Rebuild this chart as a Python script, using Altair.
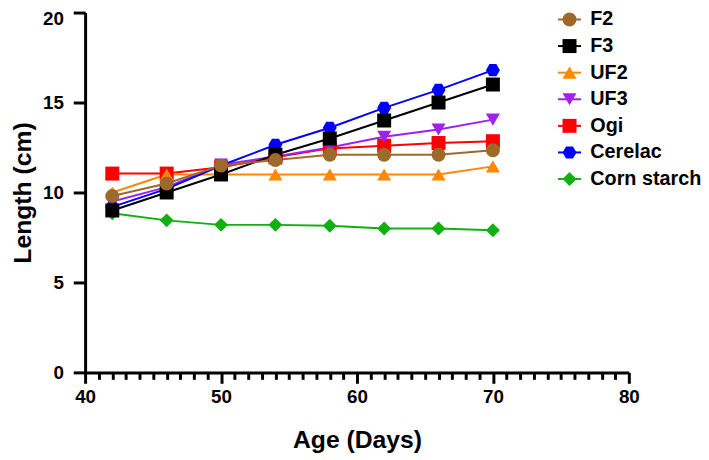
import altair as alt
import pandas as pd

age = [42, 46, 50, 54, 58, 62, 66, 70]
series = ["F2", "F3", "UF2", "UF3", "Ogi", "Cerelac", "Corn starch"]
f2 = [9.8, 10.5, 11.5, 11.8, 12.1, 12.1, 12.1, 12.35]
f3 = [9.0, 10.0, 11.0, 12.1, 13.0, 14.0, 15.0, 16.0]
uf2 = [10.0, 11.0, 11.0, 11.0, 11.0, 11.0, 11.0, 11.45]
uf3 = [9.5, 10.3, 11.55, 12.0, 12.5, 13.1, 13.5, 14.05]
ogi = [11.05, 11.05, 11.4, 11.95, 12.45, 12.6, 12.75, 12.85]
cerelac = [9.2, 10.2, 11.5, 12.65, 13.6, 14.7, 15.7, 16.8]
corn = [8.85, 8.45, 8.2, 8.2, 8.15, 8.0, 8.0, 7.9]

colors = ["#9C6B2C", "#000000", "#FF8800", "#A020F0", "#FF0000", "#0000FF", "#10B010"]
HEX = "M-1,0L-0.5,-0.866L0.5,-0.866L1,0L0.5,0.866L-0.5,0.866Z"
shapes = ["circle", "square", "triangle-up", "triangle-down", "square", HEX, "diamond"]
draw_order = ["Corn starch", "Ogi", "UF3", "UF2", "Cerelac", "F3", "F2"]

x_ticks = list(range(40, 81))
y_ticks = [0, 5, 10, 15, 20]

values = {"F2": f2, "F3": f3, "UF2": uf2, "UF3": uf3, "Ogi": ogi,
          "Cerelac": cerelac, "Corn starch": corn}
rows = []
for name in draw_order:
    for a, v in zip(age, values[name]):
        rows.append({"age": a, "length": v, "series": name})
df = pd.DataFrame(rows)

FONT = "Liberation Sans"

x_enc = alt.X(
    "age:Q",
    scale=alt.Scale(domain=[40, 80], nice=False, zero=False),
    axis=alt.Axis(
        values=x_ticks,
        labelExpr="datum.value % 10 === 0 ? datum.label : ''",
        labelOverlap=False,
        labelFlush=False,
        tickSize={"condition": {"test": "datum.value % 10 === 0", "value": 11}, "value": 7},
        labelPadding=4,
        title="Age (Days)",
        titlePadding=22,
    ),
)
y_enc = alt.Y(
    "length:Q",
    scale=alt.Scale(domain=[0, 20], nice=False),
    axis=alt.Axis(
        values=y_ticks, tickSize=12, labelPadding=10,
        labelBaseline={"condition": {"test": "datum.value === 20", "value": "top"}, "value": "middle"},
        labelOffset={"condition": {"test": "datum.value === 20", "value": -3}, "value": 0},
        title="Length (cm)", titlePadding=7,
    ),
)

common_legend = dict(
    title=None, orient="none", legendX=480, legendY=-3,
    labelFont=FONT, labelFontSize=20, labelFontWeight="bold", labelColor="black",
    labelOffset=11, rowPadding=6.9, symbolSize=200,
)

stroke_legend = alt.Legend(symbolType="M-1.65,0L1.65,0", symbolStrokeWidth=2,
                           symbolFillColor="transparent", labelOpacity=0,
                           **common_legend)
point_legend = alt.Legend(symbolStrokeWidth=0, symbolOpacity=1, **common_legend)

lines = alt.Chart(df).mark_line(strokeWidth=2).encode(
    x=x_enc, y=y_enc,
    stroke=alt.Stroke("series:N", sort=series, scale=alt.Scale(range=colors),
                      legend=stroke_legend),
)

points = alt.Chart(df).mark_point(filled=True, size=200, opacity=1).encode(
    x=x_enc, y=y_enc,
    fill=alt.Fill("series:N", scale=alt.Scale(domain=series, range=colors),
                  legend=point_legend),
    shape=alt.Shape("series:N", scale=alt.Scale(domain=series, range=shapes),
                    legend=point_legend),
)

chart = alt.layer(lines, points).properties(
    width=550, height=364,
    autosize=alt.AutoSizeParams(type="none"),
    padding={"left": 78, "top": 2, "right": 73, "bottom": 86},
).configure_view(stroke=None).configure_axis(
    domainColor="black", domainWidth=3, tickColor="black", tickWidth=3,
    labelFont=FONT, labelFontSize=19, labelFontWeight="bold", labelColor="black",
    titleFont=FONT, titleFontSize=25, titleFontWeight="bold", titleColor="black",
    grid=False,
)

chart.save("out.html", embed_options={"renderer": "svg", "actions": False})
